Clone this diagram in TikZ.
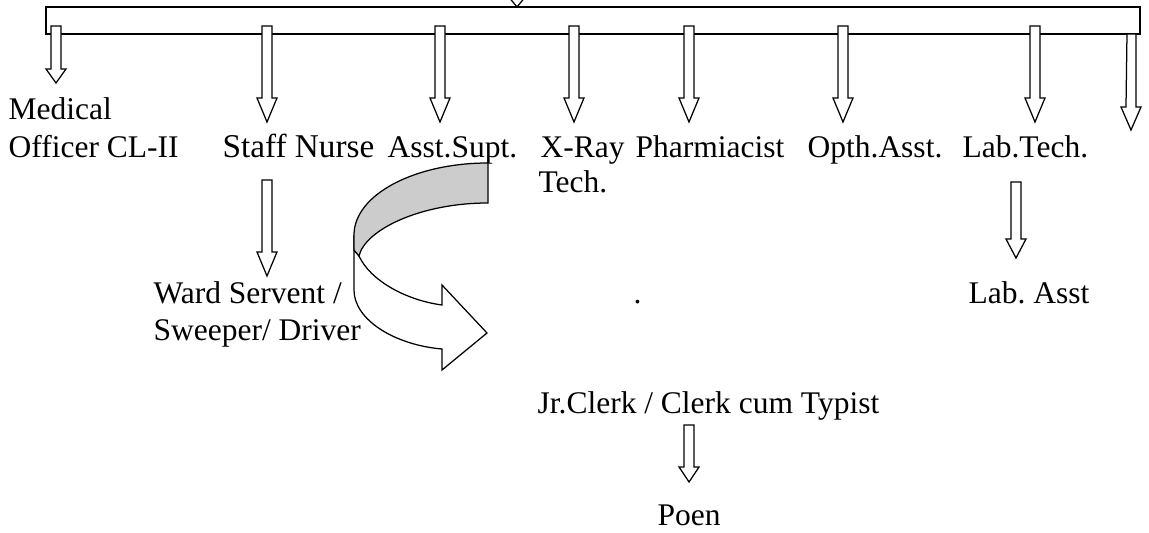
\documentclass[tikz,border=0pt]{standalone}
\usepackage{fontspec}
\setmainfont{Liberation Serif}
\frenchspacing
% hollow block arrow pointing down: centre x, shaft top, head base, tip
\newcommand{\blockdown}[4]{%
  \filldraw[blockarrow] ({#1-5},#2) -- ({#1+5},#2) -- ({#1+5},#3) -- ({#1+10},#3)
    -- (#1,#4) -- ({#1-10},#3) -- ({#1-5},#3) -- cycle;}
\tikzset{
  blockarrow/.style={draw=black, fill=white, line width=0.5pt, line join=miter},
  post/.style={anchor=base west, inner sep=0pt, align=left},
  wide/.style={font=\fontsize{13.3}{14.8}\selectfont},
  backface/.style={draw=black, fill=gray!40, line width=0.5pt},
  frontface/.style={draw=black, fill=white, line width=0.5pt},
}
\begin{document}
\begin{tikzpicture}[x=0.4pt, y=-0.4pt, line width=0.5pt,
  every node/.style={font=\fontsize{12.6}{14.8}\selectfont}]
\useasboundingbox (0,0) rectangle (1149,533);

% distribution bar fed from above
\draw (46,7) rectangle (1140,34);
\filldraw[blockarrow] (508,-4) -- (517,7) -- (526,-4);

% branches down to each post
\blockdown{56}{26}{69}{83}
\blockdown{267}{26}{98}{122}
\blockdown{440}{26}{98}{122}
\blockdown{574}{26}{98}{122}
\blockdown{689}{26}{98}{122}
\blockdown{843}{26}{98}{122}
\blockdown{1035}{26}{98}{122}
\filldraw[blockarrow] (1127,34) -- (1136,34) -- (1136,107) -- (1141,107)
  -- (1131,130) -- (1121,107) -- (1126,107) -- cycle;

% posts
\node[post] (mo) at (8,157) {Medical\\Officer CL-II};
\node[post, wide] (sn) at (222,157) {Staff Nurse};
\node[post] (as) at (387,157) {Asst.Supt.};
\node[post] (xr) at (540,157) {X-Ray};
\node[post] (xt) at (538,192) {Tech.};
\node[post] (ph) at (635,157) {Pharmiacist};
\node[post] (oa) at (807,157) {Opth.Asst.};
\node[post] (lt) at (962,157) {Lab.Tech.};

\node[post] (ws) at (153,303) {Ward Servent /};
\node[post] (sd) at (153,340) {Sweeper/ Driver};
\node[post] (dot) at (633,303) {.};
\node[post] (la) at (968,303) {Lab. Asst};
\node[post] (jc) at (537,413) {Jr.Clerk / Clerk cum Typist};
\node[post] (pn) at (657,525) {Poen};

% subordinate links
\blockdown{267}{180}{252}{276}
\blockdown{1016}{182}{239}{258}
\blockdown{689}{425}{467}{482}

% curved arrow from Asst.Supt. towards the clerical posts
\path[frontface] (354,235) -- (354,290)
  .. controls (354,320) and (395,345) .. (442,349)
  -- (442,370) -- (487,333) -- (442,285) -- (442,305)
  .. controls (405,300) and (370,280) .. (359,256)
  -- (354,250) -- cycle;
\path[backface] (488,163) .. controls (414,163) and (354,195) .. (354,235)
  -- (354,250) -- (359,256)
  .. controls (365,230) and (420,203) .. (488,203) -- cycle;
\end{tikzpicture}
\end{document}
